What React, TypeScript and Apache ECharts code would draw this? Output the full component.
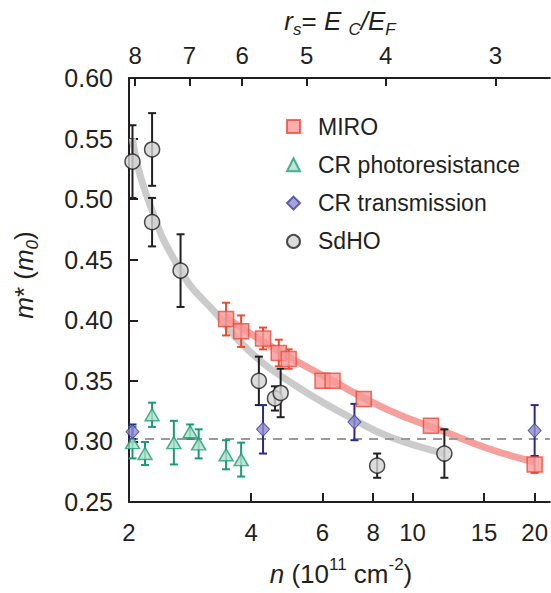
import React, { useEffect, useRef } from 'react';
import * as echarts from 'echarts';

const FONT = '"Liberation Sans", Arial, Helvetica, sans-serif';
const INK = '#231f20';

// n in 10^11 cm^-2, m* in m0
const miroN = [3.47, 3.78, 4.28, 4.68, 4.95, 6.0, 6.35, 7.58, 11.1, 20];
const miroM = [0.401, 0.391, 0.385, 0.373, 0.368, 0.350, 0.350, 0.335, 0.313, 0.281];
const miroErr = [0.0135, 0.013, 0.009, 0.011, 0.008, 0, 0, 0, 0, 0.007];

const crPhotoN = [2.04, 2.19, 2.28, 2.58, 2.83, 2.97, 3.47, 3.78];
const crPhotoM = [0.299, 0.290, 0.322, 0.299, 0.308, 0.298, 0.289, 0.285];
const crPhotoErr = [0.013, 0.0095, 0.010, 0.018, 0.006, 0.012, 0.012, 0.014];

const crTransN = [2.04, 4.28, 7.19, 20];
const crTransM = [0.308, 0.310, 0.316, 0.309];
const crTransErr = [0.006, 0.02, 0.015, 0.021];

const sdhoN = [2.04, 2.28, 2.28, 2.68, 4.18, 4.58, 4.73, 8.18, 11.98];
const sdhoM = [0.531, 0.541, 0.481, 0.441, 0.350, 0.3355, 0.340, 0.280, 0.290];
const sdhoErr = [0.03, 0.03, 0.02, 0.03, 0.02, 0.01, 0.02, 0.01, 0.02];

// fitted curves
const sdhoFitN = [2.04, 2.2, 2.68, 3.33, 3.95, 5.1, 7.23, 8.74, 11.98];
const sdhoFitM = [0.550, 0.505, 0.441, 0.403, 0.375, 0.347, 0.3175, 0.304, 0.290];
const miroFitN = [3.45, 4.5, 6.2, 8.7, 12, 15.4, 20];
const miroFitM = [0.403, 0.378, 0.352, 0.326, 0.308, 0.294, 0.283];

const refM = 0.302;

// axes
const xMinN = 2;
const xMaxN = 21.8;
const bottomTicks = [2, 4, 6, 8, 10, 15, 20];
const rsTicks = [8, 7, 6, 5, 4, 3];
const rsTickN = [2.07, 2.82, 3.80, 5.48, 8.58, 16.0];
const yTicks = { min: 0.25, max: 0.6, step: 0.05 };

const L = (v: number) => Math.log10(v);

function errSeries(n: number[], m: number[], e: number[], color: string) {
  const data: number[][] = [];
  n.forEach((v, i) => {
    if (e[i] > 0) data.push([L(v), m[i] - e[i], m[i] + e[i]]);
  });
  return {
    type: 'custom',
    silent: true,
    z: 3,
    data,
    encode: { x: 0, y: [1, 2] },
    renderItem: (params: any, api: any) => {
      const x = api.value(0);
      const lo = api.coord([x, api.value(1)]);
      const hi = api.coord([x, api.value(2)]);
      const cw = 4;
      const st = { stroke: color, lineWidth: 2 };
      return {
        type: 'group',
        children: [
          { type: 'line', shape: { x1: lo[0], y1: lo[1], x2: hi[0], y2: hi[1] }, style: st },
          { type: 'line', shape: { x1: lo[0] - cw, y1: lo[1], x2: lo[0] + cw, y2: lo[1] }, style: st },
          { type: 'line', shape: { x1: hi[0] - cw, y1: hi[1], x2: hi[0] + cw, y2: hi[1] }, style: st },
        ],
      };
    },
  };
}

const pts = (n: number[], m: number[]) => n.map((v, i) => [L(v), m[i]]);

export default function App() {
  const ref = useRef<HTMLDivElement>(null);
  useEffect(() => {
    const chart = echarts.init(ref.current!, null, { renderer: 'svg' });
    const TS = 26;
    const baseRich = (lh: number, subLh: number, supLh: number) => ({
      n: { fontSize: TS, fontFamily: FONT, lineHeight: lh, fill: INK },
      i: { fontSize: TS, fontFamily: FONT, fontStyle: 'italic', lineHeight: lh, fill: INK },
      sub: { fontSize: 17, fontFamily: FONT, lineHeight: subLh, verticalAlign: 'bottom', fill: INK },
      isub: { fontSize: 17, fontFamily: FONT, fontStyle: 'italic', lineHeight: subLh, verticalAlign: 'bottom', fill: INK },
      sup: { fontSize: 17, fontFamily: FONT, lineHeight: supLh, verticalAlign: 'top', fill: INK },
    });
    const option: any = {
      animation: false,
      backgroundColor: '#ffffff',
      grid: { left: 129, right: 0, top: 78, bottom: 91 },
      xAxis: [
        {
          type: 'value',
          position: 'bottom',
          min: L(xMinN),
          max: L(xMaxN),
          axisLine: { show: true, onZero: false, lineStyle: { color: INK, width: 2 } },
          axisTick: { show: true, inside: true, length: 9, lineStyle: { color: INK, width: 2 }, customValues: bottomTicks.map(L) },
          axisLabel: {
            customValues: bottomTicks.map(L),
            formatter: (v: number) => String(Math.round(Math.pow(10, v))),
            fontSize: 24, fontFamily: FONT, color: INK, margin: 18,
          },
          splitLine: { show: false },
        },
        {
          type: 'value',
          position: 'top',
          min: L(xMinN),
          max: L(xMaxN),
          axisLine: { show: true, onZero: false, lineStyle: { color: INK, width: 2 } },
          axisTick: { show: true, inside: true, length: 8, lineStyle: { color: INK, width: 2 }, customValues: rsTickN.map(L) },
          axisLabel: {
            customValues: rsTickN.map(L),
            formatter: (v: number) => {
              let best = 0;
              rsTickN.forEach((t, i) => { if (Math.abs(L(t) - v) < Math.abs(L(rsTickN[best]) - v)) best = i; });
              return String(rsTicks[best]);
            },
            fontSize: 24, fontFamily: FONT, color: INK, margin: 11,
          },
          splitLine: { show: false },
        },
      ],
      yAxis: {
        type: 'value',
        min: yTicks.min,
        max: yTicks.max,
        interval: yTicks.step,
        axisLine: { show: true, lineStyle: { color: INK, width: 2 } },
        axisTick: { show: true, inside: true, length: 9, lineStyle: { color: INK, width: 2 } },
        axisLabel: { formatter: (v: number) => v.toFixed(2), fontSize: 25, fontFamily: FONT, color: INK, margin: 16 },
        splitLine: { show: false },
      },
      legend: {
        data: ['MIRO', 'CR photoresistance', 'CR transmission', 'SdHO'],
        orient: 'vertical',
        left: 281,
        top: 110,
        itemWidth: 13,
        itemHeight: 13,
        itemGap: 15.3,
        selectedMode: false,
        textStyle: { fontSize: 23, fontFamily: FONT, color: INK, padding: [0, 0, 0, 13] },
      },
      graphic: [
        {
          type: 'text', x: 24, y: 275, rotation: Math.PI / 2,
          style: {
            text: '{i|m}{n|* (}{i|m}{isub|0}{n|)}',
            rich: baseRich(34, 17, 17), align: 'center', verticalAlign: 'middle', fill: INK,
          },
        },
        {
          type: 'text', x: 341, y: 574,
          style: {
            text: '{i|n}{n| (10}{sup|11}{n| cm}{sup|-2}{n|)}',
            rich: baseRich(36, 17, 14), align: 'center', verticalAlign: 'middle', fill: INK,
          },
        },
        {
          type: 'text', x: 340, y: 21,
          style: {
            text: '{i|r}{isub|s}{n|= }{i|E }{isub|C}{i|/E}{isub|F}',
            rich: baseRich(34, 17, 17), align: 'center', verticalAlign: 'middle', fill: INK,
          },
        },
      ],
      series: [
        {
          type: 'line', data: pts(sdhoFitN, sdhoFitM), smooth: true, symbol: 'none', silent: true, z: 1,
          lineStyle: { color: '#cbcbcb', width: 7 },
        },
        {
          type: 'line', data: pts(miroFitN, miroFitM), smooth: true, symbol: 'none', silent: true, z: 1,
          lineStyle: { color: '#f5a09d', width: 7 },
        },
        {
          type: 'line', data: [[L(xMinN), refM], [L(xMaxN), refM]], symbol: 'none', silent: true, z: 2,
          lineStyle: { color: '#9a9a9a', width: 2, type: [9, 7] },
        },
        errSeries(crPhotoN, crPhotoM, crPhotoErr, '#1a9a78'),
        errSeries(sdhoN, sdhoM, sdhoErr, INK),
        errSeries(miroN, miroM, miroErr, '#ea4a2e'),
        errSeries(crTransN, crTransM, crTransErr, '#2b2b8c'),
        {
          type: 'scatter', name: 'CR photoresistance', symbol: 'triangle', symbolSize: [14, 12], z: 5,
          data: pts(crPhotoN, crPhotoM),
          itemStyle: { color: '#ade0c8', borderColor: '#1f9d77', borderWidth: 1.5 },
        },
        {
          type: 'scatter', name: 'SdHO', symbol: 'circle', symbolSize: 15, z: 5,
          data: pts(sdhoN, sdhoM),
          itemStyle: { color: '#d2d3d2', borderColor: INK, borderWidth: 1.5 },
        },
        {
          type: 'scatter', name: 'MIRO', symbol: 'rect', symbolSize: 15, z: 5,
          data: pts(miroN, miroM),
          itemStyle: { color: '#f59a98', borderColor: '#ee4a3a', borderWidth: 1.5 },
        },
        {
          type: 'scatter', name: 'CR transmission', symbol: 'diamond', symbolSize: [13, 14], z: 5,
          data: pts(crTransN, crTransM),
          itemStyle: { color: '#8e8dcf', borderColor: '#3d3d9e', borderWidth: 1 },
        },
      ],
    };
    chart.setOption(option);
    return () => chart.dispose();
  }, []);
  return <div ref={ref} style={{ width: 551, height: 593, position: 'absolute', left: 0, top: 0 }} />;
}
